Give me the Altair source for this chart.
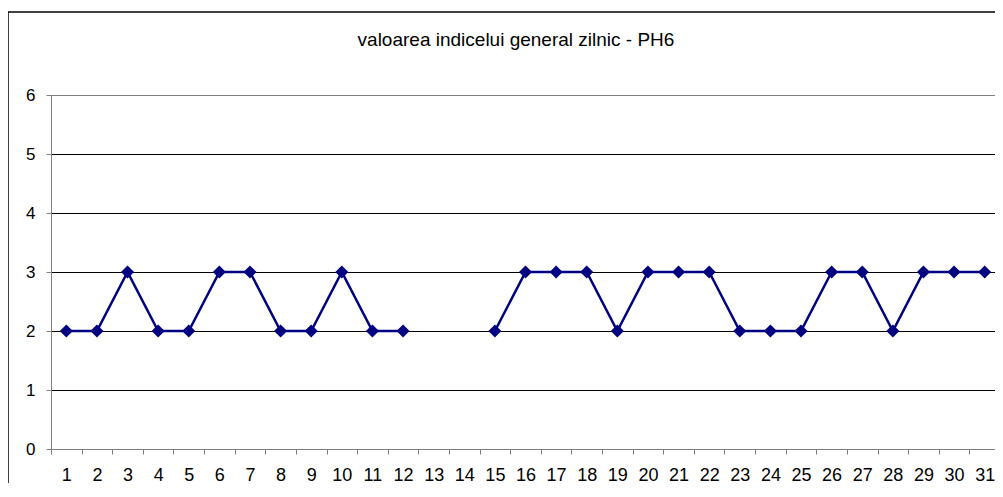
import altair as alt
import pandas as pd

# ---- data ----
days = list(range(1, 32))
values = [2, 2, 3, 2, 2, 3, 3, 2, 2, 3, 2, 2, None, None, 2,
          3, 3, 3, 2, 3, 3, 3, 2, 2, 2, 3, 3, 2, 3, 3, 3]
y_ticks = [0, 1, 2, 3, 4, 5, 6]
title_text = ["valoarea indicelui general zilnic - PH6"]

df = pd.DataFrame({"day": days, "value": values})
pts = df.dropna()
title_df = pd.DataFrame({"t": title_text})
frame_df = pd.DataFrame({"f": [0]})

NAVY = "#000080"
GRAY = "#808080"
FONT = "Liberation Sans"

x_scale = alt.Scale(type="band", paddingInner=0, paddingOuter=0)
y_scale = alt.Scale(domain=[0, 6], nice=False, zero=True)

x_axis = alt.Axis(title=None, labelAngle=0, tickBand="extent", tickSize=5,
                  labelPadding=12, domainColor=GRAY, tickColor=GRAY,
                  grid=False, labelFontSize=18)
y_axis = alt.Axis(title=None, values=y_ticks, format="d", tickSize=5, labelPadding=11,
                  domainColor=GRAY, tickColor=GRAY, grid=True,
                  gridColor={"condition": {"test": "datum.value === 6", "value": GRAY},
                             "value": "black"},
                  gridOpacity=1, gridWidth=1, labelFontSize=17)

base = alt.Chart(df)

line = base.mark_line(color=NAVY, strokeWidth=2.5).encode(
    x=alt.X("day:O", bandPosition=0.5, scale=x_scale, axis=x_axis, sort="ascending"),
    y=alt.Y("value:Q", scale=y_scale, axis=y_axis),
)

points = alt.Chart(pts).mark_point(shape="diamond", filled=True, size=170,
                                   color=NAVY, opacity=1).encode(
    x=alt.X("day:O", bandPosition=0.5, scale=x_scale, sort="ascending"),
    y=alt.Y("value:Q", scale=y_scale),
)

title = alt.Chart(title_df).mark_text(font=FONT, fontSize=19, align="center",
                                      baseline="alphabetic", color="black").encode(
    text="t:N", x=alt.value(465), y=alt.value(-49)
)

frame_top = alt.Chart(frame_df).mark_rule(stroke="black", strokeWidth=1.5).encode(
    x=alt.value(-43), x2=alt.value(2000), y=alt.value(-83)
)
frame_left = alt.Chart(frame_df).mark_rule(stroke="black", strokeWidth=1.5).encode(
    x=alt.value(-43), y=alt.value(-83), y2=alt.value(1000)
)

chart = alt.layer(frame_top, frame_left, line, points, title).properties(
    width=949, height=354,
    autosize=alt.AutoSizeParams(type="none"),
    padding={"left": 43, "top": 87, "right": -5, "bottom": 34},
    background="white",
).configure_view(
    stroke=GRAY, strokeWidth=1
).configure_axis(
    labelFont=FONT, labelColor="black"
)

chart.save("out.html", embed_options={"renderer": "svg", "actions": False})
